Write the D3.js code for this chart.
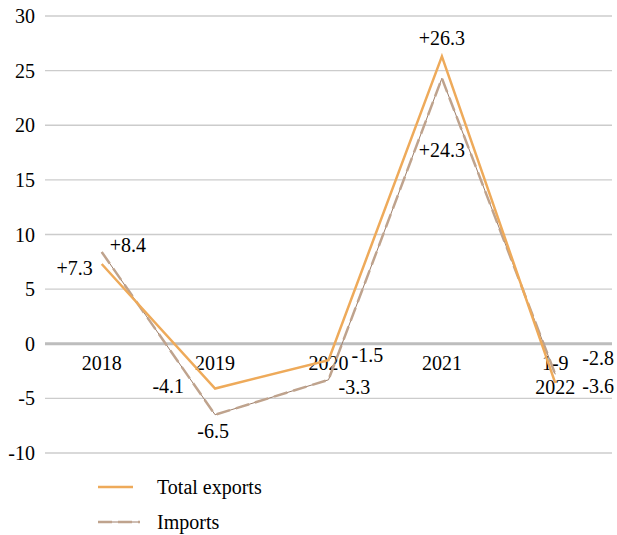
<!DOCTYPE html>
<html>
<head>
<meta charset="utf-8">
<script src="https://cdn.jsdelivr.net/npm/d3@7"></script>
<style>
  body { margin: 0; background: #fff; }
</style>
</head>
<body>
<div id="chart"></div>
<script>
// Year-on-year growth (%), exports vs imports
const years = ["2018", "2019", "2020", "2021", "1-9 2022"];
const exportsPct = [7.3, -4.1, -1.5, 26.3, -3.6];
const importsPct = [8.4, -6.5, -3.3, 24.3, -2.8];
const yTicks = [-10, -5, 0, 5, 10, 15, 20, 25, 30];

const width = 617, height = 535;

const svg = d3.select("#chart")
  .append("svg")
  .attr("width", width)
  .attr("height", height)
  .style("font-family", "'Liberation Serif', 'Times New Roman', Times, 'DejaVu Serif', serif")
  .style("font-size", "20px");

const x = d3.scalePoint().domain(years).range([45, 612]).padding(0.5);
const y = d3.scaleLinear().domain([-10, 30]).range([453, 16]);

// grid lines + y labels
svg.append("g")
  .selectAll("line")
  .data(yTicks)
  .join("line")
  .attr("x1", 45).attr("x2", 612)
  .attr("y1", d => y(d)).attr("y2", d => y(d))
  .attr("stroke", d => d === 0 ? "#bdbdbd" : "#cccccc")
  .attr("stroke-width", d => d === 0 ? 3 : 1.3);

svg.append("g")
  .selectAll("text")
  .data(yTicks)
  .join("text")
  .attr("x", 35)
  .attr("y", d => y(d) + 7)
  .attr("text-anchor", "end")
  .attr("fill", "#000")
  .text(d => d);

// category labels under the zero line
svg.append("g")
  .selectAll("text")
  .data(years)
  .join("text")
  .attr("x", d => x(d))
  .attr("y", y(0) + 26)
  .attr("text-anchor", "middle")
  .attr("fill", "#000")
  .each(function (d) {
    const parts = d.split(" ");
    d3.select(this).selectAll("tspan")
      .data(parts)
      .join("tspan")
      .attr("x", x(d))
      .attr("dy", (p, i) => i === 0 ? 0 : 24)
      .text(p => p);
  });

const line = d3.line()
  .x((d, i) => x(years[i]))
  .y(d => y(d));

// imports: thin line under a dashed stroke
svg.append("path")
  .attr("d", line(importsPct))
  .attr("fill", "none")
  .attr("stroke", "#9c7d68")
  .attr("stroke-width", 1);
svg.append("path")
  .attr("d", line(importsPct))
  .attr("fill", "none")
  .attr("stroke", "#bfa38d")
  .attr("stroke-width", 2.5)
  .attr("stroke-dasharray", "14,6");

svg.append("path")
  .attr("d", line(exportsPct))
  .attr("fill", "none")
  .attr("stroke", "#eeaa5a")
  .attr("stroke-width", 2.5);

// value labels, offsets from each point
const exportOffsets = [[-9, 11, "end"], [-31, 4, "end"], [23, 2, "start"], [0, -11, "middle"], [27, 10, "start"]];
const importOffsets = [[8, 0, "start"], [-2, 23, "middle"], [10, 14, "start"], [0, 79, "middle"], [27, -9, "start"]];
const fmt = v => (v > 0 ? "+" : "") + v;

function drawLabels(values, offsets) {
  svg.append("g")
    .selectAll("text")
    .data(values)
    .join("text")
    .attr("x", (d, i) => x(years[i]) + offsets[i][0])
    .attr("y", (d, i) => y(d) + offsets[i][1])
    .attr("text-anchor", (d, i) => offsets[i][2])
    .attr("fill", "#000")
    .text(fmt);
}
drawLabels(exportsPct, exportOffsets);
drawLabels(importsPct, importOffsets);

// legend
const legend = svg.append("g");
legend.append("line")
  .attr("x1", 98).attr("x2", 133).attr("y1", 487).attr("y2", 487)
  .attr("stroke", "#eeaa5a").attr("stroke-width", 2.5);
legend.append("text")
  .attr("x", 157).attr("y", 494)
  .attr("fill", "#000")
  .text("Total exports");
legend.append("line")
  .attr("x1", 98).attr("x2", 140).attr("y1", 522).attr("y2", 522)
  .attr("stroke", "#9c7d68").attr("stroke-width", 1);
legend.append("line")
  .attr("x1", 98).attr("x2", 140).attr("y1", 522).attr("y2", 522)
  .attr("stroke", "#bfa38d").attr("stroke-width", 2.5)
  .attr("stroke-dasharray", "14,6");
legend.append("text")
  .attr("x", 157).attr("y", 529)
  .attr("fill", "#000")
  .text("Imports");
</script>
</body>
</html>
